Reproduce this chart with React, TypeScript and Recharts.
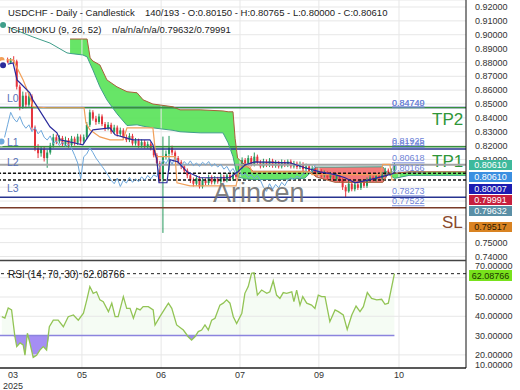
import React from 'react';
import { ComposedChart, Bar, Line, Area, XAxis, YAxis, CartesianGrid, ReferenceLine } from 'recharts';

const FONT = '"Liberation Sans", Arial, sans-serif';

// daily candles, index = bar number
const opens = [
  0.8810, 0.8805, 0.8822, 0.8798, 0.8815, 0.8808, 0.8625, 0.8480, 0.8560, 0.8495,
  0.8555, 0.8330, 0.8180, 0.8145, 0.8175, 0.8110, 0.8150, 0.8200, 0.8260, 0.8230,
  0.8255, 0.8210, 0.8240, 0.8205, 0.8250, 0.8220, 0.8265, 0.8230, 0.8260, 0.8350,
  0.8440, 0.8395, 0.8370, 0.8410, 0.8355, 0.8325, 0.8350, 0.8300, 0.8330, 0.8285,
  0.8310, 0.8260, 0.8240, 0.8270, 0.8215, 0.8235, 0.8200, 0.8225, 0.8195, 0.8210,
  0.8180, 0.8130, 0.8075, 0.7960, 0.8120, 0.8140, 0.8185, 0.8150, 0.8110, 0.8080,
  0.8050, 0.8020, 0.7985, 0.7950, 0.7925, 0.7965, 0.7905, 0.7950, 0.7930, 0.7970,
  0.7935, 0.7960, 0.7940, 0.7975, 0.7950, 0.7985, 0.7960, 0.7990, 0.7975, 0.8050,
  0.8095, 0.8070, 0.8110, 0.8065, 0.8120, 0.8080, 0.8050, 0.8085, 0.8060, 0.8090,
  0.8055, 0.8075, 0.8050, 0.8080, 0.8060, 0.8085, 0.8050, 0.8070, 0.8045, 0.8065,
  0.8030, 0.8050, 0.8010, 0.8035, 0.7995, 0.8015, 0.7985, 0.8000, 0.7970, 0.7990,
  0.7960, 0.7985, 0.7950, 0.7900, 0.7870, 0.7925, 0.7885, 0.7920, 0.7895, 0.7935,
  0.7910, 0.7950, 0.7970, 0.7955, 0.7980, 0.7965, 0.7990, 0.8020, 0.8005, 0.8015,
];
const highs = [
  0.8830, 0.8840, 0.8835, 0.8832, 0.8845, 0.8820, 0.8640, 0.8590, 0.8585, 0.8575,
  0.8570, 0.8345, 0.8210, 0.8195, 0.8190, 0.8170, 0.8220, 0.8285, 0.8280, 0.8275,
  0.8270, 0.8265, 0.8255, 0.8270, 0.8265, 0.8285, 0.8280, 0.8280, 0.8370, 0.8460,
  0.8455, 0.8415, 0.8430, 0.8425, 0.8370, 0.8370, 0.8365, 0.8350, 0.8345, 0.8330,
  0.8325, 0.8280, 0.8290, 0.8285, 0.8255, 0.8250, 0.8245, 0.8240, 0.8230, 0.8225,
  0.8195, 0.8145, 0.8090, 0.8265, 0.8165, 0.8270, 0.8200, 0.8165, 0.8125, 0.8095,
  0.8065, 0.8035, 0.8000, 0.7970, 0.7985, 0.7980, 0.7970, 0.7965, 0.7990, 0.7985,
  0.7980, 0.7975, 0.7995, 0.7990, 0.8000, 0.8000, 0.8010, 0.8005, 0.8070, 0.8115,
  0.8110, 0.8130, 0.8125, 0.8150, 0.8135, 0.8095, 0.8105, 0.8100, 0.8110, 0.8105,
  0.8095, 0.8090, 0.8100, 0.8095, 0.8100, 0.8100, 0.8090, 0.8085, 0.8085, 0.8080,
  0.8070, 0.8065, 0.8055, 0.8050, 0.8035, 0.8030, 0.8020, 0.8015, 0.8010, 0.8005,
  0.8000, 0.8000, 0.7965, 0.7915, 0.7945, 0.7940, 0.7940, 0.7935, 0.7955, 0.7950,
  0.7970, 0.7990, 0.7985, 0.8000, 0.7995, 0.8010, 0.8040, 0.8035, 0.8035, 0.80765,
];
const lows = [
  0.8790, 0.8795, 0.8785, 0.8790, 0.8795, 0.8605, 0.8455, 0.8465, 0.8470, 0.8480,
  0.8310, 0.8160, 0.8110, 0.8120, 0.8085, 0.8040, 0.8135, 0.8185, 0.8210, 0.8215,
  0.8190, 0.8195, 0.8185, 0.8190, 0.8200, 0.8205, 0.8210, 0.8215, 0.8245, 0.8335,
  0.8380, 0.8350, 0.8355, 0.8340, 0.8305, 0.8310, 0.8285, 0.8285, 0.8265, 0.8270,
  0.8245, 0.8225, 0.8225, 0.8200, 0.8200, 0.8185, 0.8185, 0.8180, 0.8180, 0.8165,
  0.8115, 0.8055, 0.7935, 0.7570, 0.8100, 0.8020, 0.8130, 0.8095, 0.8060, 0.8030,
  0.8000, 0.7965, 0.7930, 0.7905, 0.7910, 0.7890, 0.7890, 0.7915, 0.7915, 0.7920,
  0.7920, 0.7925, 0.7925, 0.7935, 0.7935, 0.7945, 0.7945, 0.7955, 0.7960, 0.8035,
  0.8055, 0.8055, 0.8050, 0.8050, 0.8065, 0.8035, 0.8040, 0.8045, 0.8045, 0.8040,
  0.8040, 0.8035, 0.8035, 0.8045, 0.8045, 0.8035, 0.8035, 0.8030, 0.8030, 0.8015,
  0.8015, 0.7995, 0.7995, 0.7980, 0.7980, 0.7970, 0.7970, 0.7955, 0.7955, 0.7945,
  0.7945, 0.7935, 0.7880, 0.7825, 0.7860, 0.7870, 0.7870, 0.7880, 0.7880, 0.7895,
  0.7895, 0.7935, 0.7940, 0.7940, 0.7950, 0.7950, 0.7975, 0.7990, 0.7990, 0.8000,
];
const closes = [
  0.8805, 0.8822, 0.8798, 0.8815, 0.8808, 0.8625, 0.8480, 0.8560, 0.8495, 0.8555,
  0.8330, 0.8180, 0.8145, 0.8175, 0.8110, 0.8150, 0.8200, 0.8260, 0.8230, 0.8255,
  0.8210, 0.8240, 0.8205, 0.8250, 0.8220, 0.8265, 0.8230, 0.8260, 0.8350, 0.8440,
  0.8395, 0.8370, 0.8410, 0.8355, 0.8325, 0.8350, 0.8300, 0.8330, 0.8285, 0.8310,
  0.8260, 0.8240, 0.8270, 0.8215, 0.8235, 0.8200, 0.8225, 0.8195, 0.8210, 0.8180,
  0.8130, 0.8075, 0.7960, 0.8120, 0.8140, 0.8185, 0.8150, 0.8110, 0.8080, 0.8050,
  0.8020, 0.7985, 0.7950, 0.7925, 0.7965, 0.7905, 0.7950, 0.7930, 0.7970, 0.7935,
  0.7960, 0.7940, 0.7975, 0.7950, 0.7985, 0.7960, 0.7990, 0.7975, 0.8050, 0.8095,
  0.8070, 0.8110, 0.8065, 0.8120, 0.8080, 0.8050, 0.8085, 0.8060, 0.8090, 0.8055,
  0.8075, 0.8050, 0.8080, 0.8060, 0.8085, 0.8050, 0.8070, 0.8045, 0.8065, 0.8030,
  0.8050, 0.8010, 0.8035, 0.7995, 0.8015, 0.7985, 0.8000, 0.7970, 0.7990, 0.7960,
  0.7985, 0.7950, 0.7900, 0.7870, 0.7925, 0.7885, 0.7920, 0.7895, 0.7935, 0.7910,
  0.7950, 0.7970, 0.7955, 0.7980, 0.7965, 0.7990, 0.8020, 0.8005, 0.8015, 0.8061,
];

// ichimoku as (bar position, price) vertices
const tenkanX = [0.5, 3.8, 5.1, 6.1, 9.3, 10.3, 15.9, 18.2, 19.2, 26.7, 28.4, 30, 35.6, 37.3, 43.2, 48.7, 49.7, 51, 51.7, 54.3, 55.3, 57.9, 60.9, 65.2, 75, 77.6, 80, 83.2, 94.7, 99.6, 104.6, 109.5, 112.8, 116.1, 121, 125.9, 129];
const tenkanV = [0.878, 0.8796, 0.8674, 0.8652, 0.858, 0.853, 0.8336, 0.8292, 0.8242, 0.8206, 0.8263, 0.8314, 0.8328, 0.8278, 0.8242, 0.8242, 0.8206, 0.8098, 0.7932, 0.7932, 0.8098, 0.8083, 0.8011, 0.7968, 0.7968, 0.8011, 0.8062, 0.8083, 0.8076, 0.804, 0.8011, 0.799, 0.7968, 0.7932, 0.7954, 0.7982, 0.80007];
const kijunX = [0, 3.8, 7.1, 9.3, 10.3, 14.9, 27.1, 27.7, 29, 32.3, 35.6, 39.9, 41.2, 49.7, 50.7, 57, 57.6, 61.9, 77, 78.3, 81.6, 82.2, 101.3, 101.9, 124.3, 125.2, 127.5, 128.2, 129];
const kijunV = [0.8818, 0.8818, 0.8674, 0.8552, 0.848, 0.8473, 0.8473, 0.8364, 0.8314, 0.8263, 0.8242, 0.8242, 0.8328, 0.8328, 0.812, 0.812, 0.7932, 0.791, 0.791, 0.8047, 0.8047, 0.8011, 0.8011, 0.799, 0.799, 0.8065, 0.8065, 0.7952, 0.79517];
const cloudX = [0.5, 10.3, 15.9, 21.5, 22.5, 26.7, 28.1, 29.1, 30, 32.3, 34.6, 37.9, 41.2, 44.5, 46.5, 49.7, 56.3, 58.6, 65.2, 72.7, 74.4, 76, 76.7, 77.5, 80, 82.6, 91.1, 99.6, 101.6, 103.2, 109.5, 125.2, 126.9, 129, 133.8, 152.5];
const spanA = [0.907, 0.8984, 0.894, 0.8869, 0.8865, 0.8854, 0.884, 0.879, 0.8746, 0.8624, 0.853, 0.843, 0.8345, 0.835, 0.834, 0.8328, 0.831, 0.830, 0.8292, 0.8292, 0.822, 0.812, 0.805, 0.7975, 0.796, 0.7955, 0.7955, 0.7965, 0.8008, 0.8045, 0.8045, 0.8047, 0.7995, 0.79632, 0.7985, 0.7985];
const spanB = [null, null, null, null, 0.8969, 0.8969, 0.8969, 0.8833, 0.881, 0.8782, 0.8674, 0.8624, 0.8589, 0.8581, 0.853, 0.850, 0.848, 0.8458, 0.8458, 0.845, 0.8444, 0.8444, 0.825, 0.811, 0.806, 0.8015, 0.8015, 0.8015, 0.8008, 0.7975, 0.7935, 0.7935, 0.7995, 0.79991, 0.8011, 0.8011];
const CHIKOU_SHIFT = 26;

// RSI(14) vertices
const rsiX = [0.1, 1.1, 2.2, 3.3, 4.4, 5.0, 6.1, 7.1, 7.7, 8.5, 9.3, 10.4, 11.5, 12.6, 13.7, 14.8, 15.7, 17, 18.6, 20.3, 21.9, 23.6, 25.2, 26.9, 28, 29, 30.1, 31.2, 32.3, 33.4, 35.1, 36.2, 37.3, 38.3, 40, 41.1, 42.2, 43.3, 44.4, 45.5, 46.5, 48.2, 49.8, 50.4, 52, 53.7, 54.8, 55.9, 57.5, 59.7, 61.3, 62.4, 63.5, 64.6, 65.7, 66.8, 67.9, 69, 70.1, 71.7, 72.8, 73.9, 75, 76.1, 77.2, 78.9, 79.9, 81, 82.1, 82.9, 84, 85.4, 87.1, 88.1, 89.2, 90.3, 91.4, 92.5, 93.6, 95.3, 96, 96.9, 98, 98.9, 100.2, 101.8, 102.9, 104, 105.1, 106.2, 107.8, 109.5, 110.6, 112.2, 113.5, 115, 116.4, 117.7, 118.8, 120.1, 121.5, 123.2, 124.8, 125.9, 127, 129];
const rsiV = [39.8, 39.1, 44.3, 43.3, 29.4, 24.3, 26.2, 25.2, 19.9, 31.2, 26.2, 18.7, 19.8, 22.5, 24.3, 22.5, 34.6, 38.0, 38.0, 34.6, 39.8, 40.7, 38.0, 41.6, 48.5, 55.4, 51.9, 52.7, 48.5, 47.6, 42.4, 46.8, 39.8, 39.8, 50.2, 44.1, 44.1, 39.0, 44.1, 43.3, 45.0, 45.0, 43.3, 35.5, 39.8, 44.1, 46.8, 44.1, 35.5, 32.9, 29.4, 27.7, 29.4, 32.1, 32.9, 35.5, 32.9, 38.0, 39.0, 45.8, 46.8, 48.5, 46.8, 39.8, 36.3, 41.6, 51.9, 55.4, 62.3, 62.6, 51.0, 53.6, 51.9, 52.7, 58.4, 51.0, 49.3, 52.3, 51.9, 52.7, 47.6, 53.6, 45.8, 50.2, 46.8, 45.8, 44.1, 51.0, 50.2, 50.2, 37.2, 43.3, 42.4, 40.7, 33.2, 40.7, 45.3, 42.4, 45.0, 52.3, 49.3, 48.5, 48.8, 46.2, 46.8, 62.08766];

const priceTicks = [0.74, 0.75, 0.76, 0.77, 0.78, 0.79, 0.8, 0.81, 0.82, 0.83, 0.84, 0.85, 0.86, 0.87, 0.88, 0.89, 0.9, 0.91, 0.92];
const coveredPriceTicks = [0.76, 0.77, 0.78, 0.79, 0.8];
const rsiTicks = [10, 20, 30, 40, 50, 60, 70];
const coveredRsiTicks = [60];
const rsiGrid = [20, 40, 50, 60];
const monthTicks = [3.8, 26.4, 52.4, 78.3, 104.2, 130.5];
const monthLabels = ['03', '05', '06', '07', '09', '10'];
const yearLabel = '2025';

const levelNames = ['L0', 'TP2', 'TP1', 'L1', 'L2', 'PV', 'L3', 'SL'];
const levelValues = [0.84749, 0.8474, 0.81925, 0.81748, 0.80618, 0.80166, 0.78273, 0.77522];
const dashedValues = [0.80007, 0.79517];

const badgeTexts = ['0.80610', '0.80610', '0.80007', '0.79991', '0.79632', '0.79517'];
const rsiLast = 62.08766;

const X_DOMAIN = [-0.5, 152.5];
const PRICE_DOMAIN = [0.73674, 0.92505];
const RSI_DOMAIN = [13.21, 68.65];

// tables for the library
const candles = closes.map((c, i) => ({ x: i, o: opens[i], h: highs[i], l: lows[i], c, range: [lows[i], highs[i]] }));
const pts = (xs: number[], vs: (number | null)[]) => xs.map((x, k) => ({ x, v: vs[k] }));
const tenkanRows = pts(tenkanX, tenkanV);
const kijunRows = pts(kijunX, kijunV);
const spanARows = pts(cloudX, spanA);
const spanBRows = pts(cloudX, spanB);
const chikouRows = closes.slice(CHIKOU_SHIFT).map((c, k) => ({ x: k, v: c }));
const greenCloud = cloudX.map((x, k) => {
  const a = spanA[k], b = spanB[k];
  return { x, r: b != null && b >= a ? [a, b] : null };
});
const redCloud = cloudX.map((x, k) => {
  const a = spanA[k], b = spanB[k];
  return { x, r: b != null && a >= b ? [b, a] : null };
});
const rsiRows = rsiX.map((x, k) => {
  const v = rsiV[k];
  return { x, v, up: [30, Math.max(v, 30)], dn: [Math.min(v, 30), 30] };
});

const levelStyle: Record<string, any> = {
  L0: { stroke: '#27338f', w: 1.5, tag: 'left', dy: -9, ty: -5, text: '0.84749' },
  TP2: { stroke: '#37903d', w: 1.2, tag: 'right', dy: 11, ty: -5, text: '0.84740' },
  TP1: { stroke: '#37903d', w: 1.5, tag: 'right', dy: 14, ty: -5.5, text: '0.81925' },
  L1: { stroke: '#27338f', w: 1.5, tag: 'left', dy: -7, ty: -6, text: '0.81748' },
  L2: { stroke: '#a3a3a3', w: 2, tag: 'left', dy: -2, ty: -6.5, text: '0.80618' },
  PV: { stroke: 'none', w: 0, tag: null, dy: 0, ty: -3.5, text: '0.80166' },
  L3: { stroke: '#27338f', w: 1.5, tag: 'left', dy: -8.5, ty: -6, text: '0.78273' },
  SL: { stroke: '#7a3b28', w: 1.5, tag: 'right', dy: 14, ty: -6.5, text: '0.77522' },
};

const badgeStyle = [
  { top: 160, bg: '#3db99c', fg: '#fff' },
  { top: 172, bg: '#3b8fe1', fg: '#fff' },
  { top: 184, bg: '#1c1cb2', fg: '#fff' },
  { top: 195, bg: '#c71f3d', fg: '#fff' },
  { top: 206, bg: '#5a8fa6', fg: '#fff' },
  { top: 222, bg: '#d98322', fg: '#2a1800' },
];

const Candle = (props: any) => {
  const { x, y, width, height, payload } = props;
  if (!payload || x == null) return null;
  const top = Math.min(y, y + height);
  const bottom = Math.max(y, y + height);
  const span = payload.h - payload.l || 1e-9;
  const py = (p: number) => top + ((payload.h - p) / span) * (bottom - top);
  const cx = x + width / 2;
  const up = payload.c >= payload.o;
  const color = up ? '#23985a' : '#e5343d';
  const yo = py(payload.o);
  const yc = py(payload.c);
  return (
    <g>
      <line x1={cx} x2={cx} y1={top} y2={bottom} stroke={color} strokeWidth={1} />
      <rect x={cx - 1} y={Math.min(yo, yc)} width={2} height={Math.max(1, Math.abs(yc - yo))} fill={color} />
    </g>
  );
};

const LevelTag = ({ viewBox, name }: any) => {
  if (!viewBox) return null;
  const st = levelStyle[name];
  const y = viewBox.y;
  return (
    <g fontFamily={FONT}>
      {st.tag === 'left' && (
        <text x={7} y={y + st.dy} dy="0.35em" fontSize={10.5} fill="#5a73b9">{name}</text>
      )}
      {st.tag === 'right' && (
        <text x={name === 'SL' ? 442 : 432} y={y + st.dy} dy="0.35em" fontSize={17} fill={name === 'SL' ? '#8a4a2c' : '#2f9638'}>{name}</text>
      )}
      <text x={392} y={y + st.ty} dy="0.35em" fontSize={9} fill="#6f84d8" textDecoration="underline">{st.text}</text>
    </g>
  );
};

const PriceTick = ({ x, y, payload }: any) => {
  if (coveredPriceTicks.includes(payload.value)) return null;
  return (
    <text x={x} y={y} dy="0.35em" fontSize={9} fontFamily={FONT} fill="#333">{Number(payload.value).toFixed(5)}</text>
  );
};

const RsiTick = ({ x, y, payload }: any) => {
  if (coveredRsiTicks.includes(payload.value)) return null;
  const cy = Math.min(Math.max(y, 4.5), 104);
  return (
    <text x={x} y={cy} dy="0.35em" fontSize={9} fontFamily={FONT} fill="#333">{Number(payload.value).toFixed(5)}</text>
  );
};

const MonthTick = ({ x, y, payload, index }: any) => (
  <g fontFamily={FONT} fontSize={9} fill="#333">
    <text x={x} y={y + 10} textAnchor="middle">{monthLabels[index] ?? payload.value}</text>
    {index === 0 && <text x={x} y={y + 20.5} textAnchor="middle">{yearLabel}</text>}
  </g>
);

const App = () => {
  return (
    <div style={{ position: 'relative', width: 520, height: 390, background: '#fff', overflow: 'hidden', fontFamily: FONT }}>
      <style>{'body{margin:0}'}</style>
      <div style={{ position: 'absolute', left: 0, top: 0 }}>
        <ComposedChart width={520} height={261} data={candles} margin={{ top: 0, right: 0, bottom: 0, left: 0 }}>
          <CartesianGrid vertical={false} stroke="#e7e7e7" />
          <XAxis dataKey="x" type="number" domain={X_DOMAIN} ticks={monthTicks} hide allowDataOverflow />
          <YAxis
            orientation="right"
            width={54}
            type="number"
            domain={PRICE_DOMAIN}
            ticks={priceTicks}
            interval={0}
            allowDataOverflow
            tickSize={0}
            tickMargin={9}
            tickLine={false}
            axisLine={{ stroke: '#111' }}
            tick={<PriceTick />}
          />
          {monthTicks.slice(1).map((t) => (
            <ReferenceLine key={'g' + t} x={t} stroke="#e7e7e7" />
          ))}
          <Area data={greenCloud} dataKey="r" type="linear" stroke="none" fill="#57e257" fillOpacity={0.9} isAnimationActive={false} />
          <Area data={redCloud} dataKey="r" type="linear" stroke="none" fill="#f36868" fillOpacity={0.88} isAnimationActive={false} />
          {levelNames.map((n, k) => (
            <ReferenceLine
              key={n}
              y={levelValues[k]}
              stroke={levelStyle[n].stroke}
              strokeWidth={levelStyle[n].w}
              label={<LevelTag name={n} />}
            />
          ))}
          {dashedValues.map((v) => (
            <ReferenceLine key={'d' + v} y={v} stroke="#111" strokeWidth={1.6} strokeDasharray="3 2" />
          ))}
          <Bar dataKey="range" barSize={3} shape={(p: any) => <Candle {...p} />} isAnimationActive={false} />
          <Line data={spanARows} dataKey="v" type="linear" stroke="#3f9e8a" strokeWidth={1} dot={false} isAnimationActive={false} />
          <Line data={spanBRows} dataKey="v" type="linear" stroke="#a8603a" strokeWidth={1} dot={false} isAnimationActive={false} />
          <Line data={chikouRows} dataKey="v" type="linear" stroke="#6ea8dc" strokeWidth={1} dot={false} isAnimationActive={false} />
          <Line data={kijunRows} dataKey="v" type="linear" stroke="#f19f58" strokeWidth={1.2} dot={false} isAnimationActive={false} />
          <Line data={tenkanRows} dataKey="v" type="linear" stroke="#2a2a9c" strokeWidth={1.2} dot={false} isAnimationActive={false} />
        </ComposedChart>
      </div>
      <div style={{ position: 'absolute', left: 0, top: 261 }}>
        <ComposedChart width={520} height={129} data={rsiRows} margin={{ top: 0, right: 0, bottom: 0, left: 0 }}>
          <XAxis
            dataKey="x"
            type="number"
            domain={X_DOMAIN}
            ticks={monthTicks}
            interval={0}
            allowDataOverflow
            height={22}
            tickSize={0}
            tickMargin={0}
            tickLine={false}
            axisLine={{ stroke: '#222', strokeWidth: 1.5 }}
            tick={<MonthTick />}
          />
          <YAxis
            orientation="right"
            width={54}
            type="number"
            domain={RSI_DOMAIN}
            ticks={rsiTicks}
            interval={0}
            allowDataOverflow
            tickSize={0}
            tickMargin={9}
            tickLine={false}
            axisLine={{ stroke: '#111' }}
            tick={<RsiTick />}
          />
          {rsiGrid.map((v) => (
            <ReferenceLine key={'rg' + v} y={v} stroke="#e7e7e7" />
          ))}
          {monthTicks.slice(1).map((t) => (
            <ReferenceLine key={'rv' + t} x={t} stroke="#e7e7e7" />
          ))}
          <Area dataKey="up" type="linear" stroke="none" fill="#e9f9e6" fillOpacity={0.45} isAnimationActive={false} />
          <Area dataKey="dn" type="linear" stroke="none" fill="#a088f2" fillOpacity={0.95} isAnimationActive={false} />
          <ReferenceLine segment={[{ x: -0.5, y: 30 }, { x: 129, y: 30 }]} stroke="#8b84de" strokeWidth={1.5} />
          <ReferenceLine y={rsiLast} stroke="#222" strokeDasharray="3 3" />
          <Line dataKey="v" type="linear" stroke="#92c455" strokeWidth={1.3} dot={false} isAnimationActive={false} />
        </ComposedChart>
      </div>
      <svg width={520} height={390} style={{ position: 'absolute', left: 0, top: 0, pointerEvents: 'none' }} fontFamily={FONT}>
        <line x1={0} x2={466} y1={260.5} y2={260.5} stroke="#444" strokeWidth={1.5} />
        <text x={8} y={16} fontSize={9.5} fill="#222">USDCHF - Daily - Candlestick</text>
        <text x={145} y={16} fontSize={9.5} fill="#222">140/193 - O:0.80150 - H:0.80765 - L:0.80000 - C:0.80610</text>
        <text x={8} y={33} fontSize={9.5} fill="#222">ICHIMOKU (9, 26, 52)</text>
        <text x={112} y={33} fontSize={9.5} fill="#222">n/a/n/a/n/a/0.79632/0.79991</text>
        <text x={213} y={202} fontSize={27} fill="#6f6f6f" fillOpacity={0.9}>Arincen</text>
        <text x={8} y={278} fontSize={10} fill="#222">RSI (14, 70, 30)</text>
        <text x={83} y={278} fontSize={10} fill="#222">{rsiLast.toFixed(5)}</text>
        {badgeTexts.map((t, k) => (
          <g key={'b' + k}>
            <rect x={469} y={badgeStyle[k].top} width={43} height={10} fill={badgeStyle[k].bg} />
            <text x={490.5} y={badgeStyle[k].top + 8.3} fontSize={9} textAnchor="middle" fill={badgeStyle[k].fg}>{t}</text>
          </g>
        ))}
        <rect x={469} y={270} width={43} height={11} fill="#78e21c" />
        <text x={490.5} y={278.8} fontSize={9} textAnchor="middle" fill="#1c3300">{rsiLast.toFixed(5)}</text>
      </svg>
    </div>
  );
};

export default App;
